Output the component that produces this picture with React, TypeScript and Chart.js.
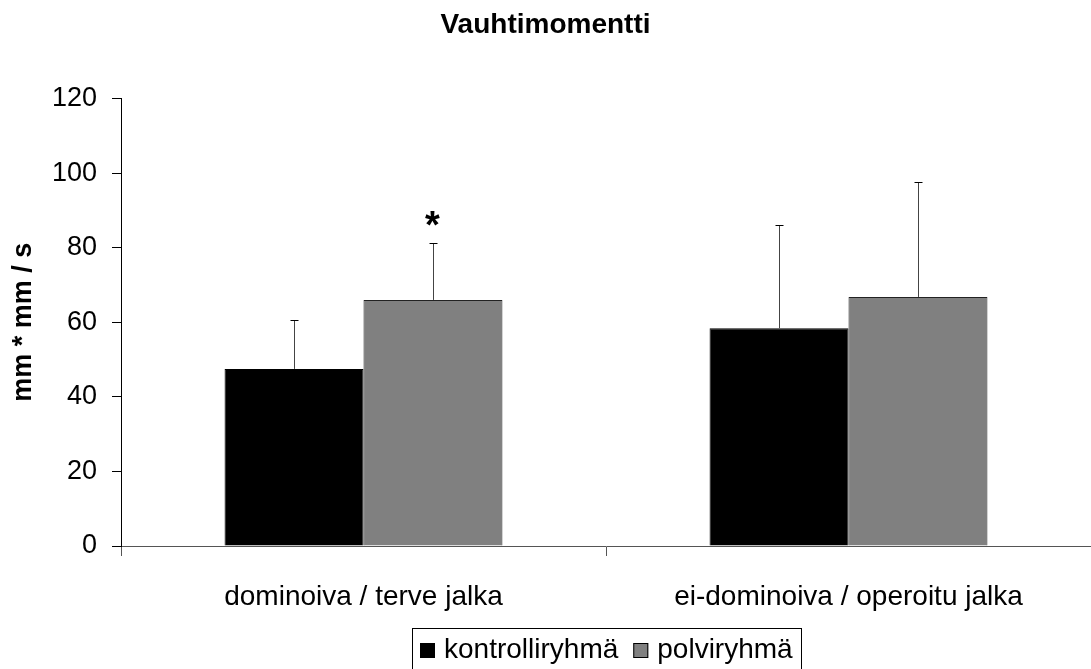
import React, { useEffect, useRef } from 'react';
import { Chart, registerables } from 'chart.js';

Chart.register(...registerables);

const chartTitle = 'Vauhtimomentti';
const yAxisTitle = 'mm * mm / s';
const categories = ['dominoiva / terve jalka', 'ei-dominoiva / operoitu jalka'];
const seriesNames = ['kontrolliryhmä', 'polviryhmä'];
const kontrolliValues = [47.5, 58.4];
const kontrolliSD = [13.2, 27.6];
const polviValues = [66.0, 66.8];
const polviSD = [15.3, 30.8];
const kontrolliMarks = ['', ''];
const polviMarks = ['*', ''];
const yTicks = [0, 20, 40, 60, 80, 100, 120];

const FONT = "'Liberation Sans', Arial, Helvetica, sans-serif";

const errorBarPlugin = {
  id: 'errorBars',
  afterDatasetsDraw(chart: any) {
    const ctx = chart.ctx;
    const y = chart.scales.y;
    chart.data.datasets.forEach((ds: any, i: number) => {
      const meta = chart.getDatasetMeta(i);
      meta.data.forEach((bar: any, j: number) => {
        const v = ds.data[j];
        const err = ds.errors[j];
        const topPx = Math.round(y.getPixelForValue(v + err)) + 0.5;
        const basePx = y.getPixelForValue(v);
        const x = Math.round(bar.x) + 0.5;
        ctx.save();
        ctx.strokeStyle = '#444';
        ctx.lineWidth = 1;
        ctx.beginPath();
        ctx.moveTo(x, basePx);
        ctx.lineTo(x, topPx);
        ctx.stroke();
        ctx.strokeStyle = '#000';
        ctx.beginPath();
        ctx.moveTo(x - 4, topPx);
        ctx.lineTo(x + 4, topPx);
        ctx.stroke();
        const mark = ds.marks[j];
        if (mark) {
          ctx.fillStyle = '#000';
          ctx.font = `bold 38px ${FONT}`;
          ctx.textAlign = 'center';
          ctx.textBaseline = 'alphabetic';
          ctx.fillText(mark, x - 1, topPx - 6);
        }
        ctx.restore();
      });
    });
  },
};

const boxLegendPlugin = {
  id: 'boxLegend',
  afterDraw(chart: any) {
    const ctx = chart.ctx;
    const area = chart.chartArea;
    ctx.save();
    ctx.font = `28px ${FONT}`;
    const sq = 15;
    const gapText = 9;
    const gapItem = 15;
    const pad = 8;
    const items = chart.data.datasets.map((ds: any) => ({
      label: ds.label,
      fill: ds.backgroundColor,
      stroke: ds.borderColor,
      w: ctx.measureText(ds.label).width,
    }));
    let total = pad * 2 + gapItem * (items.length - 1);
    items.forEach((it: any) => (total += sq + gapText + it.w));
    const left = Math.round((area.left + area.right) / 2 - total / 2);
    const top = Math.round(area.bottom + 82);
    ctx.strokeStyle = '#000';
    ctx.lineWidth = 1;
    ctx.strokeRect(left + 0.5, top + 0.5, Math.round(total), chart.height - top + 10);
    const baseline = top + 30;
    let x = left + pad;
    items.forEach((it: any) => {
      ctx.fillStyle = it.fill;
      ctx.fillRect(x, baseline - sq, sq, sq);
      ctx.strokeStyle = '#000';
      ctx.strokeRect(x + 0.5, baseline - sq + 0.5, sq - 1, sq - 1);
      x += sq + gapText;
      ctx.fillStyle = '#000';
      ctx.textAlign = 'left';
      ctx.textBaseline = 'alphabetic';
      ctx.fillText(it.label, x, baseline);
      x += it.w + gapItem;
    });
    ctx.restore();
  },
};

export default function App() {
  const canvasRef = useRef<HTMLCanvasElement | null>(null);

  useEffect(() => {
    if (!canvasRef.current) return;
    Chart.defaults.font.family = FONT;
    Chart.defaults.color = '#000';
    const chart = new Chart(canvasRef.current, {
      type: 'bar',
      data: {
        labels: categories,
        datasets: [
          {
            label: seriesNames[0],
            data: kontrolliValues,
            errors: kontrolliSD,
            marks: kontrolliMarks,
            backgroundColor: '#000000',
            borderColor: '#000000',
            borderWidth: 1,
            categoryPercentage: 0.573,
            barPercentage: 1.0,
          } as any,
          {
            label: seriesNames[1],
            data: polviValues,
            errors: polviSD,
            marks: polviMarks,
            backgroundColor: '#808080',
            borderColor: '#222222',
            borderWidth: 1,
            categoryPercentage: 0.573,
            barPercentage: 1.0,
          } as any,
        ],
      },
      options: {
        responsive: false,
        animation: false,
        layout: { padding: { left: 0, right: 0, top: 0, bottom: 0 } },
        plugins: {
          legend: { display: false },
          tooltip: { enabled: false },
          title: {
            display: true,
            text: chartTitle,
            color: '#000',
            font: { size: 28, weight: 'bold', family: FONT },
            padding: { top: 8, bottom: 57 },
          },
        },
        scales: {
          x: {
            offset: true,
            grid: {
              display: true,
              offset: true,
              drawOnChartArea: false,
              drawTicks: true,
              tickLength: 10,
              color: '#555',
            },
            border: { display: true, color: '#555', width: 1 },
            ticks: {
              color: '#000',
              font: { size: 28, family: FONT },
              padding: 24,
              maxRotation: 0,
              autoSkip: false,
            },
            afterFit(scale: any) {
              scale.height = 123;
            },
          },
          y: {
            min: 0,
            max: 120,
            afterBuildTicks(scale: any) {
              scale.ticks = yTicks.map((v) => ({ value: v }));
            },
            grid: {
              display: true,
              drawOnChartArea: false,
              drawTicks: true,
              tickLength: 9,
              color: '#000',
            },
            border: { display: true, color: '#000', width: 1 },
            ticks: {
              color: '#000',
              font: { size: 27, family: FONT },
              padding: 15,
            },
            title: {
              display: true,
              text: yAxisTitle,
              color: '#000',
              font: { size: 27, weight: 'bold', family: FONT },
              padding: { top: 7, bottom: 0 },
            },
            afterFit(scale: any) {
              scale.width = 121;
            },
          },
        },
      },
      plugins: [errorBarPlugin, boxLegendPlugin],
    });
    return () => chart.destroy();
  }, []);

  return (
    <div style={{ position: 'absolute', left: 0, top: 0, width: 1091, height: 669, background: '#fff' }}>
      <canvas ref={canvasRef} width={1091} height={669} style={{ display: 'block' }} />
    </div>
  );
}
